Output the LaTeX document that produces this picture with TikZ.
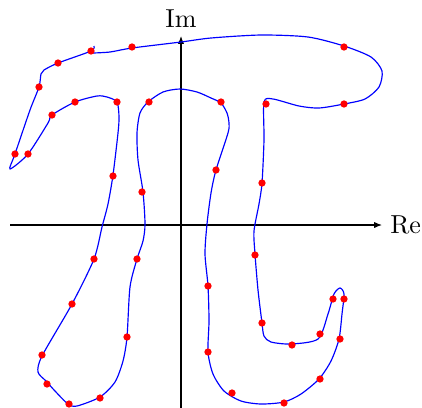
\documentclass[tikz,border=0pt]{standalone}
\usetikzlibrary{arrows.meta}
\begin{document}
\begin{tikzpicture}[x=0.385pt,y=-0.385pt,
  axis/.style={line width=0.45pt,-{Latex[length=3pt,width=2.4pt]}},
  curve/.style={blue,line width=0.45pt,line join=round},
  sample/.style={circle,fill=red,inner sep=0pt,minimum size=2.8pt}]
\useasboundingbox (0,0) rectangle (422,407);
\coordinate (xl) at (10,225);
\coordinate (xr) at (382,225);
\coordinate (yb) at (181,410);
\coordinate (yt) at (181,36);
\draw[axis] (xl) -- (xr);
\draw[axis] (yb) -- (yt);
\node[right,inner sep=3pt] (re) at (xr) {Re};
\node[above,inner sep=3pt] (im) at (yt) {Im};
\draw[curve] plot[smooth,tension=0.45] coordinates {
(93,53) (110,52) (132,48) (181,42) (211,38) (261,35) (308,37) (344,46) (371,57) (382,71) (379,87) (365,99) (344,104) (319,108) (299,106) (273,99) (264,102) (264,140) (262,183) (259,204) (254,231) (255,254) (258,290) (262,323) (264,336) (271,342) (291,344) (318,339) (328,314) (334,294) (340,288) (344,294) (342,314) (339,339) (331,361) (319,379) (301,394) (284,402) (261,404) (241,401) (224,391) (213,374) (208,352) (209,321) (208,286) (205,254) (207,224) (211,193) (216,170) (228,133) (229,123) (227,113) (221,103) (211,98) (197,92) (180,89) (163,92) (148,102) (140,113) (137,133) (138,160) (143,192) (145,224) (143,241) (137,259) (130,287) (127,337) (123,361) (115,382) (100,397) (77,406) (68,404) (55,391) (46,381) (38,372) (42,356) (72,304) (94,259) (102,227) (108,204) (113,175) (118,133) (119,117) (117,102) (107,97) (97,96) (75,102) (52,115) (48,123) (28,154) (10,169) (15,154) (30,110) (39,87) (41,74) (44,70) (58,63) (91,51) (94,46)};
\foreach \p [count=\i] in {(91,51),(132,47),(58,63),(39,87),(75,102),(117,102),(52,115),(149,102),(15,154),(28,154),(113,176),(142,192),(344,47),(221,102),(266,104),(344,104),(216,170),(262,183),(94,259),(137,259),(72,304),(127,337),(42,355),(47,384),(100,398),(69,404),(208,286),(208,352),(255,255),(333,299),(344,299),(262,323),(320,334),(340,339),(292,345),(320,379),(232,393),(284,403)}
  \node[sample] (s\i) at \p {};
\end{tikzpicture}
\end{document}
